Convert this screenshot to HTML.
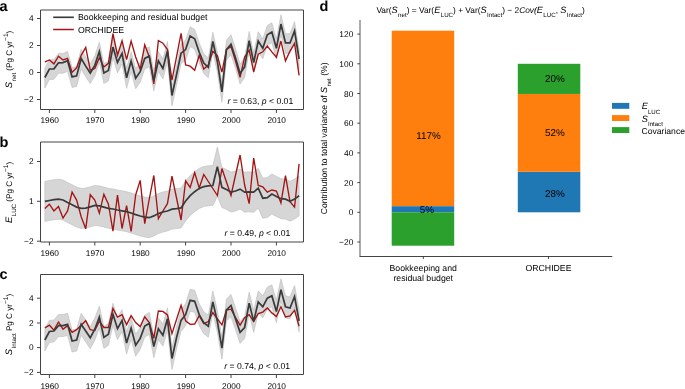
<!DOCTYPE html>
<html><head><meta charset="utf-8"><style>
html,body{margin:0;padding:0;background:#fff;width:685px;height:389px;overflow:hidden}
svg{display:block;will-change:transform}
text{font-family:"Liberation Sans", sans-serif;fill:#000;text-rendering:geometricPrecision}
.tk{font-size:8.3px}
.lg{font-size:8.72px}
.an{font-size:8.65px}
.pl{font-size:14.5px;font-weight:bold;fill:#000}
.yl{font-size:8.1px}
.sub{font-size:6px}
.sup{font-size:6.6px}
.bv{font-size:9.9px}
.dt{font-size:8.4px}
.dx{font-size:8.72px}
.tt{font-size:8.36px}
.dyl{font-size:8.6px}
.dlg{font-size:8.6px}
</style></head><body>
<svg width="685" height="389" viewBox="0 0 685 389">
<path d="M44.86,68.20 L49.40,59.69 L53.94,59.56 L58.48,53.48 L63.02,53.34 L67.56,51.45 L72.10,67.66 L76.64,66.58 L81.18,49.16 L85.72,56.86 L90.26,63.74 L94.80,56.05 L99.34,42.28 L103.88,63.61 L108.42,61.17 L112.96,37.82 L117.50,53.08 L122.04,44.17 L126.58,68.47 L131.12,51.72 L135.66,68.87 L140.20,62.39 L144.74,49.16 L149.28,46.86 L153.82,71.17 L158.36,51.45 L162.90,59.15 L167.44,41.60 L171.98,86.15 L176.52,65.50 L181.06,43.89 L185.60,40.25 L190.14,26.75 L194.68,29.45 L199.22,42.95 L203.76,53.75 L208.30,58.07 L212.84,32.15 L217.38,52.40 L221.92,82.51 L226.46,40.25 L231.00,34.85 L235.54,48.62 L240.08,64.28 L244.62,57.53 L249.16,31.47 L253.70,53.34 L258.24,31.75 L262.78,39.03 L267.32,25.54 L271.86,22.83 L276.40,39.03 L280.94,14.74 L285.48,33.64 L290.02,33.64 L294.56,21.62 L299.10,49.70 L299.10,69.50 L294.56,41.42 L290.02,53.44 L285.48,53.44 L280.94,34.54 L276.40,58.84 L271.86,42.63 L267.32,45.34 L262.78,58.84 L258.24,51.55 L253.70,73.14 L249.16,51.27 L244.62,77.33 L240.08,84.08 L235.54,68.42 L231.00,54.65 L226.46,60.05 L221.92,102.31 L217.38,72.20 L212.84,51.95 L208.30,77.87 L203.76,73.55 L199.22,62.75 L194.68,49.25 L190.14,46.55 L185.60,60.05 L181.06,63.70 L176.52,85.30 L171.98,105.95 L167.44,61.40 L162.90,78.95 L158.36,71.25 L153.82,90.97 L149.28,66.66 L144.74,68.96 L140.20,82.19 L135.66,88.67 L131.12,71.53 L126.58,88.27 L122.04,63.97 L117.50,72.88 L112.96,57.62 L108.42,80.97 L103.88,83.41 L99.34,62.08 L94.80,75.84 L90.26,83.54 L85.72,76.66 L81.18,68.96 L76.64,86.38 L72.10,87.45 L67.56,71.25 L63.02,73.14 L58.48,73.28 L53.94,79.36 L49.40,79.49 L44.86,88.00 Z" fill="#d6d6d6" stroke="#bcbcbc" stroke-width="0.6" stroke-linejoin="round"/>
<path d="M44.86,61.97 L49.40,59.95 L53.94,63.86 L58.48,56.16 L63.02,59.95 L67.56,58.46 L72.10,72.36 L76.64,67.78 L81.18,55.36 L85.72,47.39 L90.26,70.07 L94.80,68.45 L99.34,57.65 L103.88,66.97 L108.42,63.32 L112.96,33.62 L117.50,55.22 L122.04,40.77 L126.58,59.67 L131.12,41.18 L135.66,56.98 L140.20,69.26 L144.74,44.83 L149.28,56.98 L153.82,83.97 L158.36,40.50 L162.90,43.20 L167.44,49.55 L171.98,80.19 L176.52,56.84 L181.06,33.35 L185.60,64.94 L190.14,66.16 L194.68,70.34 L199.22,55.36 L203.76,69.12 L208.30,65.08 L212.84,51.17 L217.38,55.62 L221.92,72.09 L226.46,49.55 L231.00,46.58 L235.54,61.02 L240.08,77.36 L244.62,57.11 L249.16,50.23 L253.70,71.83 L258.24,54.27 L262.78,51.84 L267.32,46.04 L271.86,51.84 L276.40,57.25 L280.94,41.05 L285.48,60.89 L290.02,51.03 L294.56,43.48 L299.10,75.33" fill="none" stroke="#a51414" stroke-width="1.35" stroke-linejoin="miter"/>
<path d="M44.86,77.50 L49.40,68.99 L53.94,68.86 L58.48,62.78 L63.02,62.64 L67.56,60.76 L72.10,76.95 L76.64,75.88 L81.18,58.46 L85.72,66.16 L90.26,73.04 L94.80,65.34 L99.34,51.58 L103.88,72.91 L108.42,70.47 L112.96,47.12 L117.50,62.38 L122.04,53.47 L126.58,77.77 L131.12,61.02 L135.66,78.17 L140.20,71.69 L144.74,58.46 L149.28,56.16 L153.82,80.47 L158.36,60.76 L162.90,68.45 L167.44,50.90 L171.98,95.45 L176.52,74.80 L181.06,53.20 L185.60,49.55 L190.14,36.05 L194.68,38.75 L199.22,52.25 L203.76,63.05 L208.30,67.37 L212.84,41.45 L217.38,61.70 L221.92,91.81 L226.46,49.55 L231.00,44.15 L235.54,57.92 L240.08,73.58 L244.62,66.83 L249.16,40.77 L253.70,62.64 L258.24,41.05 L262.78,48.34 L267.32,34.84 L271.86,32.13 L276.40,48.34 L280.94,24.04 L285.48,42.94 L290.02,42.94 L294.56,30.92 L299.10,59.00" fill="none" stroke="#3a3a3a" stroke-width="1.72"/>
<path d="M40.5,10 L303.5,10 L303.5,109.5 L40.5,109.5 Z" fill="none" stroke="#444" stroke-width="1"/>
<line x1="37" y1="18.5" x2="40.5" y2="18.5" stroke="#444" stroke-width="1"/>
<text x="33.5" y="21.00" class="tk" text-anchor="end">4</text>
<line x1="37" y1="45.5" x2="40.5" y2="45.5" stroke="#444" stroke-width="1"/>
<text x="33.5" y="48.00" class="tk" text-anchor="end">2</text>
<line x1="37" y1="72.5" x2="40.5" y2="72.5" stroke="#444" stroke-width="1"/>
<text x="33.5" y="75.00" class="tk" text-anchor="end">0</text>
<line x1="37" y1="99.5" x2="40.5" y2="99.5" stroke="#444" stroke-width="1"/>
<text x="33.5" y="102.00" class="tk" text-anchor="end">−2</text>
<line x1="49.4" y1="109.5" x2="49.4" y2="113.0" stroke="#444" stroke-width="1"/>
<text x="49.70" y="122.6" class="tk" text-anchor="middle">1960</text>
<line x1="94.8" y1="109.5" x2="94.8" y2="113.0" stroke="#444" stroke-width="1"/>
<text x="95.10" y="122.6" class="tk" text-anchor="middle">1970</text>
<line x1="140.2" y1="109.5" x2="140.2" y2="113.0" stroke="#444" stroke-width="1"/>
<text x="140.50" y="122.6" class="tk" text-anchor="middle">1980</text>
<line x1="185.6" y1="109.5" x2="185.6" y2="113.0" stroke="#444" stroke-width="1"/>
<text x="185.90" y="122.6" class="tk" text-anchor="middle">1990</text>
<line x1="231.0" y1="109.5" x2="231.0" y2="113.0" stroke="#444" stroke-width="1"/>
<text x="231.30" y="122.6" class="tk" text-anchor="middle">2000</text>
<line x1="276.4" y1="109.5" x2="276.4" y2="113.0" stroke="#444" stroke-width="1"/>
<text x="276.70" y="122.6" class="tk" text-anchor="middle">2010</text>
<line x1="53.2" y1="17.3" x2="73.8" y2="17.3" stroke="#3a3a3a" stroke-width="1.65"/>
<line x1="53.2" y1="29.5" x2="73.8" y2="29.5" stroke="#a51414" stroke-width="1.5"/>
<text x="78" y="20.3" class="lg">Bookkeeping and residual budget</text>
<text x="78" y="32.5" class="lg">ORCHIDEE</text>
<text x="293.2" y="103.8" class="an" text-anchor="end"><tspan font-style="italic">r</tspan> = 0.63, <tspan font-style="italic">p</tspan> &lt; 0.01</text>
<text x="-0.5" y="10.5" class="pl">a</text>
<text transform="translate(11.8,59.5) rotate(-90)" class="yl" text-anchor="middle"><tspan font-style="italic" font-size="9.4px">S</tspan><tspan font-size="6.2px" dx="0.5" dy="4.4">net</tspan><tspan dy="-4.4"> (Pg C yr</tspan><tspan class="sup" dy="-4.0">−1</tspan><tspan dy="4.0">)</tspan></text>
<path d="M44.86,181.40 L49.40,180.50 L53.94,179.70 L58.48,179.20 L63.02,180.00 L67.56,182.60 L72.10,184.70 L76.64,187.10 L81.18,188.40 L85.72,188.10 L90.26,186.80 L94.80,185.40 L99.34,185.90 L103.88,187.10 L108.42,188.30 L112.96,189.00 L117.50,190.00 L122.04,190.80 L126.58,191.70 L131.12,193.00 L135.66,194.60 L140.20,196.00 L144.74,197.10 L149.28,197.70 L153.82,195.90 L158.36,193.60 L162.90,192.00 L167.44,191.00 L171.98,189.10 L176.52,188.60 L181.06,187.90 L185.60,181.00 L190.14,175.60 L194.68,171.70 L199.22,168.40 L203.76,166.60 L208.30,165.80 L212.84,165.50 L217.38,147.00 L221.92,167.40 L226.46,169.50 L231.00,172.00 L235.54,171.00 L240.08,169.10 L244.62,172.20 L249.16,171.80 L253.70,172.20 L258.24,168.20 L262.78,178.20 L267.32,177.60 L271.86,174.00 L276.40,176.40 L280.94,178.70 L285.48,179.10 L290.02,181.20 L294.56,179.10 L299.10,175.80 L299.10,215.80 L294.56,219.10 L290.02,221.20 L285.48,219.10 L280.94,218.70 L276.40,216.40 L271.86,214.00 L267.32,217.60 L262.78,218.20 L258.24,208.20 L253.70,212.20 L249.16,211.80 L244.62,212.20 L240.08,209.10 L235.54,211.00 L231.00,212.00 L226.46,209.50 L221.92,207.40 L217.38,196.50 L212.84,205.50 L208.30,205.80 L203.76,206.60 L199.22,208.40 L194.68,211.70 L190.14,215.60 L185.60,221.00 L181.06,227.90 L176.52,228.60 L171.98,229.10 L167.44,231.00 L162.90,232.00 L158.36,233.60 L153.82,235.90 L149.28,237.70 L144.74,237.10 L140.20,236.00 L135.66,234.60 L131.12,233.00 L126.58,231.70 L122.04,230.80 L117.50,230.00 L112.96,229.00 L108.42,228.30 L103.88,227.10 L99.34,225.90 L94.80,225.40 L90.26,226.80 L85.72,228.10 L81.18,228.40 L76.64,227.10 L72.10,224.70 L67.56,222.60 L63.02,220.00 L58.48,219.20 L53.94,219.70 L49.40,220.50 L44.86,221.40 Z" fill="#d6d6d6" stroke="#bcbcbc" stroke-width="0.6" stroke-linejoin="round"/>
<path d="M44.86,208.40 L49.40,204.20 L53.94,210.90 L58.48,206.40 L63.02,218.10 L67.56,210.90 L72.10,192.10 L76.64,200.10 L81.18,216.80 L85.72,228.80 L90.26,194.70 L94.80,200.10 L99.34,213.10 L103.88,194.20 L108.42,204.20 L112.96,231.20 L117.50,195.20 L122.04,228.50 L126.58,205.60 L131.12,231.50 L135.66,195.00 L140.20,180.40 L144.74,223.60 L149.28,199.00 L153.82,175.50 L158.36,218.70 L162.90,211.00 L167.44,203.70 L171.98,176.20 L176.52,198.00 L181.06,220.00 L185.60,180.90 L190.14,187.50 L194.68,172.60 L199.22,188.00 L203.76,174.50 L208.30,181.50 L212.84,188.50 L217.38,195.50 L221.92,168.50 L226.46,182.00 L231.00,195.50 L235.54,175.00 L240.08,155.00 L244.62,185.00 L249.16,203.60 L253.70,158.00 L258.24,185.50 L262.78,186.80 L267.32,192.20 L271.86,190.00 L276.40,191.00 L280.94,203.00 L285.48,175.60 L290.02,201.80 L294.56,207.20 L299.10,163.90" fill="none" stroke="#a51414" stroke-width="1.35"/>
<path d="M44.86,201.40 L49.40,200.50 L53.94,199.70 L58.48,199.20 L63.02,200.00 L67.56,202.60 L72.10,204.70 L76.64,207.10 L81.18,208.40 L85.72,208.10 L90.26,206.80 L94.80,205.40 L99.34,205.90 L103.88,207.10 L108.42,208.30 L112.96,209.00 L117.50,210.00 L122.04,210.80 L126.58,211.70 L131.12,213.00 L135.66,214.60 L140.20,216.00 L144.74,217.10 L149.28,217.70 L153.82,215.90 L158.36,213.60 L162.90,212.00 L167.44,211.00 L171.98,209.10 L176.52,208.60 L181.06,207.90 L185.60,201.00 L190.14,195.60 L194.68,191.70 L199.22,188.40 L203.76,186.60 L208.30,185.80 L212.84,185.50 L217.38,166.60 L221.92,187.40 L226.46,189.50 L231.00,192.00 L235.54,191.00 L240.08,189.10 L244.62,192.20 L249.16,191.80 L253.70,192.20 L258.24,188.20 L262.78,198.20 L267.32,197.60 L271.86,194.00 L276.40,196.40 L280.94,198.70 L285.48,199.10 L290.02,201.20 L294.56,199.10 L299.10,195.80" fill="none" stroke="#3a3a3a" stroke-width="1.72"/>
<path d="M40.5,142.0 L303.5,142.0 L303.5,242.0 L40.5,242.0 Z" fill="none" stroke="#444" stroke-width="1"/>
<line x1="37" y1="161.5" x2="40.5" y2="161.5" stroke="#444" stroke-width="1"/>
<text x="33.5" y="164.00" class="tk" text-anchor="end">2</text>
<line x1="37" y1="201.3" x2="40.5" y2="201.3" stroke="#444" stroke-width="1"/>
<text x="33.5" y="203.80" class="tk" text-anchor="end">1</text>
<line x1="37" y1="241.2" x2="40.5" y2="241.2" stroke="#444" stroke-width="1"/>
<text x="33.5" y="243.70" class="tk" text-anchor="end">−2</text>
<line x1="49.4" y1="242.0" x2="49.4" y2="245.5" stroke="#444" stroke-width="1"/>
<text x="49.70" y="255.6" class="tk" text-anchor="middle">1960</text>
<line x1="94.8" y1="242.0" x2="94.8" y2="245.5" stroke="#444" stroke-width="1"/>
<text x="95.10" y="255.6" class="tk" text-anchor="middle">1970</text>
<line x1="140.2" y1="242.0" x2="140.2" y2="245.5" stroke="#444" stroke-width="1"/>
<text x="140.50" y="255.6" class="tk" text-anchor="middle">1980</text>
<line x1="185.6" y1="242.0" x2="185.6" y2="245.5" stroke="#444" stroke-width="1"/>
<text x="185.90" y="255.6" class="tk" text-anchor="middle">1990</text>
<line x1="231.0" y1="242.0" x2="231.0" y2="245.5" stroke="#444" stroke-width="1"/>
<text x="231.30" y="255.6" class="tk" text-anchor="middle">2000</text>
<line x1="276.4" y1="242.0" x2="276.4" y2="245.5" stroke="#444" stroke-width="1"/>
<text x="276.70" y="255.6" class="tk" text-anchor="middle">2010</text>
<text x="290.3" y="236.2" class="an" text-anchor="end"><tspan font-style="italic">r</tspan> = 0.49, <tspan font-style="italic">p</tspan> &lt; 0.01</text>
<text x="-0.5" y="146.5" class="pl">b</text>
<text transform="translate(11.6,192.4) rotate(-90)" class="yl" text-anchor="middle"><tspan font-style="italic" font-size="9.4px">E</tspan><tspan font-size="6.2px" dx="0.5" dy="4.4">LUC</tspan><tspan dy="-4.4"> (Pg C yr</tspan><tspan class="sup" dy="-4.0">−1</tspan><tspan dy="4.0">)</tspan></text>
<path d="M44.86,329.00 L49.40,320.50 L53.94,320.00 L58.48,314.60 L63.02,314.60 L67.56,313.30 L72.10,330.00 L76.64,329.00 L81.18,313.30 L85.72,320.00 L90.26,326.80 L94.80,318.20 L99.34,306.10 L103.88,326.40 L108.42,323.30 L112.96,303.30 L117.50,317.70 L122.04,309.50 L126.58,332.10 L131.12,317.10 L135.66,334.20 L140.20,327.40 L144.74,315.00 L149.28,312.40 L153.82,335.60 L158.36,317.70 L162.90,324.30 L167.44,307.80 L171.98,347.50 L176.52,326.80 L181.06,309.40 L185.60,303.70 L190.14,289.30 L194.68,290.30 L199.22,303.70 L203.76,311.70 L208.30,315.20 L212.84,290.90 L217.38,310.60 L221.92,337.20 L226.46,299.00 L231.00,294.50 L235.54,308.00 L240.08,321.40 L244.62,316.50 L249.16,292.10 L253.70,310.40 L258.24,290.90 L262.78,295.80 L267.32,287.20 L271.86,284.80 L276.40,300.60 L280.94,278.70 L285.48,295.80 L290.02,297.00 L294.56,285.50 L299.10,309.90 L299.10,331.90 L294.56,307.50 L290.02,319.00 L285.48,317.80 L280.94,300.70 L276.40,322.60 L271.86,306.80 L267.32,309.20 L262.78,317.80 L258.24,312.90 L253.70,332.40 L249.16,314.10 L244.62,338.50 L240.08,343.40 L235.54,330.00 L231.00,316.50 L226.46,321.00 L221.92,359.20 L217.38,332.60 L212.84,312.90 L208.30,337.20 L203.76,333.70 L199.22,325.70 L194.68,312.30 L190.14,311.30 L185.60,325.70 L181.06,331.40 L176.52,348.80 L171.98,369.50 L167.44,329.80 L162.90,346.30 L158.36,339.70 L153.82,357.60 L149.28,334.40 L144.74,337.00 L140.20,349.40 L135.66,356.20 L131.12,339.10 L126.58,354.10 L122.04,331.50 L117.50,339.70 L112.96,325.30 L108.42,345.30 L103.88,348.40 L99.34,328.10 L94.80,340.20 L90.26,348.80 L85.72,342.00 L81.18,335.30 L76.64,351.00 L72.10,352.00 L67.56,335.30 L63.02,336.60 L58.48,336.60 L53.94,342.00 L49.40,342.50 L44.86,351.00 Z" fill="#d6d6d6" stroke="#bcbcbc" stroke-width="0.6" stroke-linejoin="round"/>
<path d="M44.86,327.90 L49.40,325.20 L53.94,330.20 L58.48,322.00 L63.02,329.20 L67.56,325.60 L72.10,332.40 L76.64,329.70 L81.18,325.20 L85.72,320.70 L90.26,329.70 L94.80,330.60 L99.34,321.20 L103.88,327.50 L108.42,327.50 L112.96,308.50 L117.50,317.20 L122.04,314.70 L126.58,324.60 L131.12,315.70 L135.66,322.50 L140.20,326.60 L144.74,316.80 L149.28,322.50 L153.82,338.40 L158.36,311.00 L162.90,311.40 L167.44,315.00 L171.98,333.60 L176.52,319.50 L181.06,305.40 L185.60,320.80 L190.14,324.40 L194.68,324.00 L199.22,315.70 L203.76,323.70 L208.30,321.50 L212.84,312.50 L217.38,318.90 L221.92,324.90 L226.46,310.00 L231.00,309.20 L235.54,317.70 L240.08,325.10 L244.62,317.70 L249.16,314.60 L253.70,321.40 L258.24,313.60 L262.78,312.10 L267.32,308.00 L271.86,312.90 L276.40,316.50 L280.94,306.80 L285.48,317.00 L290.02,316.00 L294.56,310.40 L299.10,326.30" fill="none" stroke="#a51414" stroke-width="1.35"/>
<path d="M44.86,340.00 L49.40,331.50 L53.94,331.00 L58.48,325.60 L63.02,325.60 L67.56,324.30 L72.10,341.00 L76.64,340.00 L81.18,324.30 L85.72,331.00 L90.26,337.80 L94.80,329.20 L99.34,317.10 L103.88,337.40 L108.42,334.30 L112.96,314.30 L117.50,328.70 L122.04,320.50 L126.58,343.10 L131.12,328.10 L135.66,345.20 L140.20,338.40 L144.74,326.00 L149.28,323.40 L153.82,346.60 L158.36,328.70 L162.90,335.30 L167.44,318.80 L171.98,358.50 L176.52,337.80 L181.06,320.40 L185.60,314.70 L190.14,300.30 L194.68,301.30 L199.22,314.70 L203.76,322.70 L208.30,326.20 L212.84,301.90 L217.38,321.60 L221.92,348.20 L226.46,310.00 L231.00,305.50 L235.54,319.00 L240.08,332.40 L244.62,327.50 L249.16,303.10 L253.70,321.40 L258.24,301.90 L262.78,306.80 L267.32,298.20 L271.86,295.80 L276.40,311.60 L280.94,289.70 L285.48,306.80 L290.02,308.00 L294.56,296.50 L299.10,320.90" fill="none" stroke="#3a3a3a" stroke-width="1.72"/>
<path d="M40.5,274.5 L303.5,274.5 L303.5,374.5 L40.5,374.5 Z" fill="none" stroke="#444" stroke-width="1"/>
<line x1="37" y1="298.2" x2="40.5" y2="298.2" stroke="#444" stroke-width="1"/>
<text x="33.5" y="300.70" class="tk" text-anchor="end">4</text>
<line x1="37" y1="323.0" x2="40.5" y2="323.0" stroke="#444" stroke-width="1"/>
<text x="33.5" y="325.50" class="tk" text-anchor="end">2</text>
<line x1="37" y1="347.6" x2="40.5" y2="347.6" stroke="#444" stroke-width="1"/>
<text x="33.5" y="350.10" class="tk" text-anchor="end">0</text>
<line x1="37" y1="372.4" x2="40.5" y2="372.4" stroke="#444" stroke-width="1"/>
<text x="33.5" y="374.90" class="tk" text-anchor="end">−2</text>
<line x1="49.4" y1="374.5" x2="49.4" y2="378.0" stroke="#444" stroke-width="1"/>
<text x="49.70" y="389.4" class="tk" text-anchor="middle">1960</text>
<line x1="94.8" y1="374.5" x2="94.8" y2="378.0" stroke="#444" stroke-width="1"/>
<text x="95.10" y="389.4" class="tk" text-anchor="middle">1970</text>
<line x1="140.2" y1="374.5" x2="140.2" y2="378.0" stroke="#444" stroke-width="1"/>
<text x="140.50" y="389.4" class="tk" text-anchor="middle">1980</text>
<line x1="185.6" y1="374.5" x2="185.6" y2="378.0" stroke="#444" stroke-width="1"/>
<text x="185.90" y="389.4" class="tk" text-anchor="middle">1990</text>
<line x1="231.0" y1="374.5" x2="231.0" y2="378.0" stroke="#444" stroke-width="1"/>
<text x="231.30" y="389.4" class="tk" text-anchor="middle">2000</text>
<line x1="276.4" y1="374.5" x2="276.4" y2="378.0" stroke="#444" stroke-width="1"/>
<text x="276.70" y="389.4" class="tk" text-anchor="middle">2010</text>
<text x="290.0" y="368.7" class="an" text-anchor="end"><tspan font-style="italic">r</tspan> = 0.74, <tspan font-style="italic">p</tspan> &lt; 0.01</text>
<text x="-0.5" y="278.5" class="pl">c</text>
<text transform="translate(11.6,324.5) rotate(-90)" class="yl" text-anchor="middle"><tspan font-style="italic" font-size="9.4px">S</tspan><tspan font-size="6.2px" dx="0.5" dy="4.4">Intact</tspan><tspan dy="-4.4"> Pg C yr</tspan><tspan class="sup" dy="-4.0">−1</tspan><tspan dy="4.0">)</tspan></text>
<rect x="391.7" y="30.68" width="62.5" height="175.53" fill="#ff7f0e"/>
<rect x="391.7" y="206.21" width="62.5" height="6.09" fill="#1f77b4"/>
<rect x="391.7" y="212.30" width="62.5" height="33.41" fill="#2ca02c"/>
<rect x="517.8" y="171.76" width="62.5" height="40.54" fill="#1f77b4"/>
<rect x="517.8" y="93.95" width="62.5" height="77.81" fill="#ff7f0e"/>
<rect x="517.8" y="63.80" width="62.5" height="30.15" fill="#2ca02c"/>
<text x="428.6" y="139.1" class="bv" text-anchor="middle">117%</text>
<text x="427.0" y="212.7" class="bv" text-anchor="middle">5%</text>
<text x="554.9" y="81.7" class="bv" text-anchor="middle">20%</text>
<text x="554.9" y="136.0" class="bv" text-anchor="middle">52%</text>
<text x="554.9" y="196.5" class="bv" text-anchor="middle">28%</text>
<line x1="360" y1="20" x2="360" y2="256.3" stroke="#444" stroke-width="0.9"/>
<line x1="359.5" y1="256.5" x2="612.3" y2="256.5" stroke="#444" stroke-width="1"/>
<line x1="357.3" y1="34.10" x2="360" y2="34.10" stroke="#333" stroke-width="0.9"/>
<text x="353.3" y="37.25" class="dt" text-anchor="end">120</text>
<line x1="357.3" y1="63.80" x2="360" y2="63.80" stroke="#333" stroke-width="0.9"/>
<text x="353.3" y="66.95" class="dt" text-anchor="end">100</text>
<line x1="357.3" y1="93.50" x2="360" y2="93.50" stroke="#333" stroke-width="0.9"/>
<text x="353.3" y="96.65" class="dt" text-anchor="end">80</text>
<line x1="357.3" y1="123.20" x2="360" y2="123.20" stroke="#333" stroke-width="0.9"/>
<text x="353.3" y="126.35" class="dt" text-anchor="end">60</text>
<line x1="357.3" y1="152.90" x2="360" y2="152.90" stroke="#333" stroke-width="0.9"/>
<text x="353.3" y="156.05" class="dt" text-anchor="end">40</text>
<line x1="357.3" y1="182.60" x2="360" y2="182.60" stroke="#333" stroke-width="0.9"/>
<text x="353.3" y="185.75" class="dt" text-anchor="end">20</text>
<line x1="357.3" y1="212.30" x2="360" y2="212.30" stroke="#333" stroke-width="0.9"/>
<text x="353.3" y="215.45" class="dt" text-anchor="end">0</text>
<line x1="357.3" y1="242.00" x2="360" y2="242.00" stroke="#333" stroke-width="0.9"/>
<text x="353.3" y="245.15" class="dt" text-anchor="end">−20</text>
<line x1="423.3" y1="256.5" x2="423.3" y2="259" stroke="#333" stroke-width="0.9"/>
<line x1="548.5" y1="256.5" x2="548.5" y2="259" stroke="#333" stroke-width="0.9"/>
<text x="423.2" y="270.5" class="dx" text-anchor="middle">Bookkeeping and</text>
<text x="423.2" y="280.5" class="dx" text-anchor="middle">residual budget</text>
<text x="548.5" y="270.6" class="dx" text-anchor="middle">ORCHIDEE</text>
<text x="319.6" y="10.5" class="pl">d</text>
<text x="480.6" y="12.6" class="tt" text-anchor="middle"><tspan>Var(</tspan><tspan font-style="italic" font-size="9.2px">S</tspan><tspan font-size="6.2px" dx="0.4" dy="4.2">net</tspan><tspan dy="-4.2">) = Var(</tspan><tspan font-style="italic" font-size="9.2px">E</tspan><tspan font-size="6.2px" dx="0.4" dy="4.2">LUC</tspan><tspan dy="-4.2">) + Var(</tspan><tspan font-style="italic" font-size="9.2px">S</tspan><tspan font-size="6.2px" dx="0.4" dy="4.2">Intact</tspan><tspan dy="-4.2">) − 2<tspan font-style="italic">Cov(</tspan></tspan><tspan font-style="italic" font-size="9.2px">E</tspan><tspan font-size="6.2px" dx="0.4" dy="4.2">LUC</tspan><tspan dy="-4.2">, </tspan><tspan font-style="italic" font-size="9.2px">S</tspan><tspan font-size="6.2px" dx="0.4" dy="4.2">Intact</tspan><tspan dy="-4.2">)</tspan></text>
<text transform="translate(326.8,138.4) rotate(-90)" class="dyl" text-anchor="middle">Contribution to total variance of <tspan font-style="italic" font-size="9.0px">S</tspan><tspan font-size="6.0px" dx="0.4" dy="4.6">net</tspan><tspan dy="-4.6"> (%)</tspan></text>
<rect x="612" y="102.9" width="17.3" height="5.9" fill="#1f77b4"/>
<rect x="612" y="115.1" width="17.3" height="5.9" fill="#ff7f0e"/>
<rect x="612" y="127.1" width="17.3" height="5.9" fill="#2ca02c"/>
<text x="641.8" y="109.3" class="dlg"><tspan font-style="italic" font-size="9.2px">E</tspan><tspan font-size="6.1px" dx="0" dy="4.4">LUC</tspan><tspan dy="-4.4"></tspan></text>
<text x="641.8" y="121.5" class="dlg"><tspan font-style="italic" font-size="9.2px">S</tspan><tspan font-size="6.1px" dx="0" dy="4.4">Intact</tspan><tspan dy="-4.4"></tspan></text>
<text x="641.5" y="133.6" class="dlg">Covariance</text>
</svg>
</body></html>
